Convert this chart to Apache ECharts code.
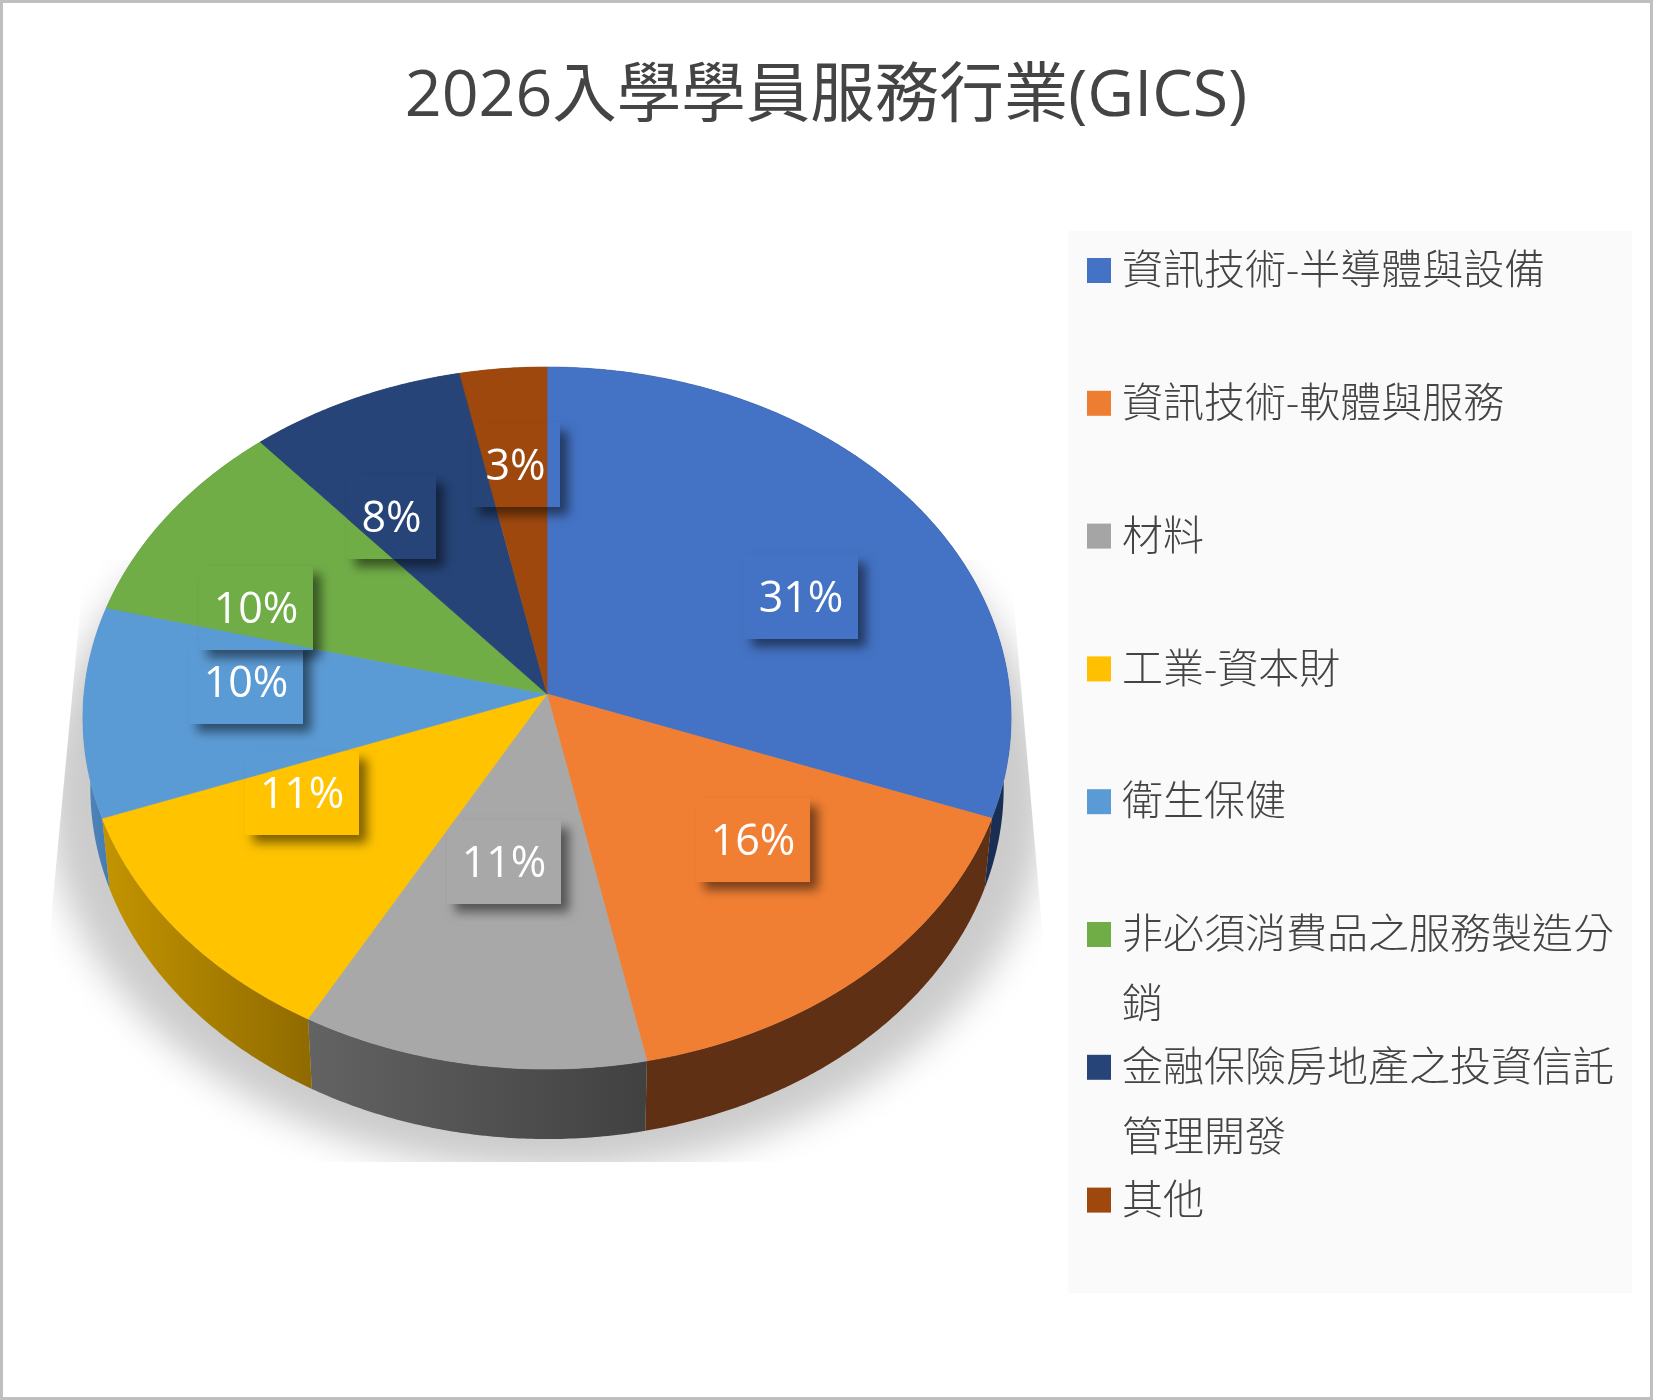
<!DOCTYPE html>
<html>
<head>
<meta charset="utf-8">
<style>html,body{margin:0;padding:0;background:#fff}#c{width:1653px;height:1400px}</style>
<script src="https://cdn.jsdelivr.net/npm/echarts@6/dist/echarts.min.js"></script>
</head>
<body>
<div id="c"></div>
<script>
const titleText = '2026入學學員服務行業(GICS)';
const categories = ['資訊技術-半導體與設備','資訊技術-軟體與服務','材料','工業-資本財','衛生保健','非必須消費品之服務製造分銷','金融保險房地產之投資信託管理開發','其他'];
const counts = [19,10,7,7,6,6,5,2];
const percentLabels = ['31%','16%','11%','11%','10%','10%','8%','3%'];
const topColors = ['#4472C4','#F17F33','#A8A8A8','#FFC300','#5B9BD5','#70AD47','#264478','#9E480E'];
const legendColors = ['#4472C4','#ED7D31','#A5A5A5','#FFC000','#5B9BD5','#70AD47','#264478','#9E480E'];
const wallColors = [['#1A2D52','#1A2D52'],['#5F3014','#5F3014'],['#636363','#414141'],['#C39400','#8F6A00'],['#4F86BD','#447AAE'],['#4A7530','#4A7530'],['#192D50','#192D50'],['#682F09','#682F09']];
const labelNudge = [[13,30],[3,-32],[5,-67],[-10,-53],[0,-24],[-41,31],[-28,19],[-2,-13]];

const total = counts.reduce((a,b)=>a+b,0);
const starts = counts.reduce((acc,v,i)=>{acc.push(i?acc[i-1]+counts[i-1]:0);return acc;},[]);
const APEX_X=547, APEX_Y=694, B=463, A=349.4, K=-0.0684, WALL=70, WALL_X=0.984, LINE=12;

function proj(frac,r){
  const t=frac*2*Math.PI, u=Math.sin(t)*r, v=-Math.cos(t)*r, d=1+K*v;
  return [APEX_X+B*u/d, APEX_Y+A*v/d];
}
function arc(f0,f1){
  const n=Math.max(2,Math.ceil((f1-f0)*720)), pts=[];
  for(let i=0;i<=n;i++) pts.push(proj(f0+(f1-f0)*i/n,1));
  return pts;
}
function topPoints(v,s){ return [[APEX_X,APEX_Y]].concat(arc(s/total,(s+v)/total)); }
function wallPoints(v,s){
  const a=arc(s/total,(s+v)/total);
  const b=a.map(p=>[APEX_X+(p[0]-APEX_X)*WALL_X,p[1]+WALL]).reverse();
  return a.concat(b);
}
const LABEL_FONT='500 43px "Open Sans","Noto Sans CJK TC",sans-serif';
const OFF=3000;
const series=[];
series.push({
  type:'custom',coordinateSystem:'none',silent:true,clip:false,z:2,data:[[0]],
  renderItem:()=>({
    type:'group',
    clipPath:{type:'polygon',shape:{points:[[85,560],[50,930],[50,1162],[1042,1162],[1042,927],[1010,560]]}},
    children:[{type:'ellipse',shape:{cx:APEX_X-OFF,cy:794,rx:500,ry:377},
      style:{fill:'#CCCCCC',shadowBlur:36,shadowColor:'#CCCCCC',shadowOffsetX:OFF}}]
  })
});
series.push({
  type:'custom',coordinateSystem:'none',silent:true,clip:false,z:3,
  data:counts.map((v,i)=>[v,starts[i],i]),
  renderItem:(p,api)=>{
    const v=api.value(0),s=api.value(1),i=api.value(2),pts=wallPoints(v,s);
    const xs=pts.map(q=>q[0]),x0=Math.min.apply(null,xs),x1=Math.max.apply(null,xs);
    const fill=new echarts.graphic.LinearGradient(x0,0,x1,0,[{offset:0,color:wallColors[i][0]},{offset:1,color:wallColors[i][1]}],true);
    return {type:'polygon',shape:{points:pts},style:{fill:fill}};
  }
});
categories.forEach((name,i)=>{
  series.push({
    type:'custom',name:name,coordinateSystem:'none',silent:true,clip:false,z:4,
    itemStyle:{color:legendColors[i]},
    data:[[counts[i],starts[i]]],
    renderItem:(p,api)=>({type:'polygon',shape:{points:topPoints(api.value(0),api.value(1))},
      style:{fill:topColors[i],stroke:topColors[i],lineWidth:0.6}})
  });
});
series.push({
  type:'custom',coordinateSystem:'none',silent:true,clip:false,z:6,
  data:counts.map((v,i)=>[v,starts[i],i]),
  renderItem:(p,api)=>{
    const v=api.value(0),s=api.value(1),i=api.value(2);
    const c=proj((s+v/2)/total,0.65);
    const lx=c[0]+labelNudge[i][0], ly=c[1]+labelNudge[i][1];
    const txt=percentLabels[i];
    const w=(txt.length-1)*25+64,h=84;
    const x=Math.round(lx-w/2),y=Math.round(ly-h/2);
    return {type:'group',children:[
      {type:'rect',shape:{x:x,y:y,width:w,height:h},
       style:{fill:topColors[i],shadowBlur:10,shadowOffsetX:8,shadowOffsetY:8,shadowColor:'rgba(0,0,0,0.5)'}},
      {type:'group',clipPath:{type:'rect',shape:{x:x,y:y,width:w,height:h}},
       children:counts.map((sv,j)=>({type:'polygon',shape:{points:topPoints(sv,starts[j])},
         style:{fill:topColors[j],stroke:topColors[j],lineWidth:0.6}}))},
      {type:'text',x:x+w/2,y:y+h/2+3,
       style:{text:txt,align:'center',verticalAlign:'middle',fill:'#fff',font:LABEL_FONT}}
    ]};
  }
});
const LEG_FONT={fontFamily:'"Open Sans","Noto Sans CJK TC",sans-serif',fontSize:41,fontWeight:300,color:'#444'};
const legends=categories.map((name,i)=>({
  data:[name],orient:'vertical',left:1087,top:270.5+132.8*i-26,padding:0,
  itemWidth:24,itemHeight:25,icon:'rect',selectedMode:false,z:8,
  formatter:n=>'{t|'+n.slice(0,LINE)+'}',
  textStyle:Object.assign({},LEG_FONT,{lineHeight:52,rich:{t:Object.assign({},LEG_FONT,{lineHeight:52,padding:[4,0,0,6]})}})
}));
const graphics=[
  {type:'rect',z:0,shape:{x:1.5,y:1.5,width:1650,height:1397},style:{fill:'#fff',stroke:'#BFBFBF',lineWidth:3}},
  {type:'rect',z:1,shape:{x:1068,y:231,width:564,height:1062},style:{fill:'#FAFAFA'}}
];
categories.forEach((name,i)=>{
  if(name.length>LINE) graphics.push({type:'text',z:8,x:1122,y:270.5+132.8*i+72,
    style:{text:name.slice(LINE),fill:LEG_FONT.color,verticalAlign:'middle',font:'300 41px "Open Sans","Noto Sans CJK TC",sans-serif'}});
});
const chart=echarts.init(document.getElementById('c'),null,{renderer:'canvas'});
chart.setOption({
  animation:false,backgroundColor:'#fff',
  title:{text:titleText,left:821,top:53,textAlign:'center',
    textStyle:{fontFamily:'"Open Sans","Noto Sans CJK TC",sans-serif',fontSize:64.5,fontWeight:400,color:'#444',lineHeight:80}},
  legend:legends,graphic:{elements:graphics},series:series
});
</script>
</body>
</html>
